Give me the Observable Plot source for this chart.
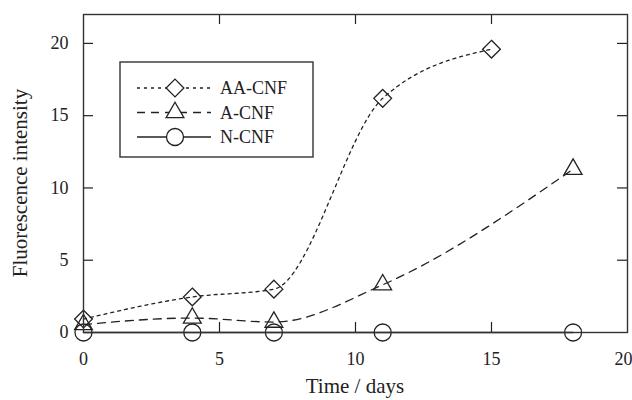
<!DOCTYPE html>
<html>
<head>
<meta charset="utf-8">
<script src="https://cdn.jsdelivr.net/npm/d3@7"></script>
<script src="https://cdn.jsdelivr.net/npm/@observablehq/plot@0.6"></script>
<style>
  html, body { margin: 0; padding: 0; background: #fff; }
  #chart { width: 632px; height: 400px; }
</style>
</head>
<body>
<div id="chart"></div>
<script>
// ---- data ----
const seriesNames = ["AA-CNF", "A-CNF", "N-CNF"];
const aaDays = [0, 4, 7, 11, 15];
const aaValues = [0.93, 2.46, 3.0, 16.2, 19.6];
const aDays = [0, 4, 7, 11, 18];
const aValues = [0.55, 1.0, 0.72, 3.3, 11.3];
const nDays = [0, 4, 7, 11, 18];
const nValues = [0, 0, 0, 0, 0];
const xTicks = [0, 5, 10, 15];
const xLastTick = [20];
const yTicks = [0, 5, 10, 15, 20];
const xInnerTicks = [5, 10, 15];
const yInnerTicks = [5, 10, 15, 20];
const xLabel = "Time / days";
const yLabel = "Fluorescence intensity";

const toRows = (xs, ys, s) => xs.map((x, i) => ({ x, y: ys[i], series: s }));
const aaRows = toRows(aaDays, aaValues, seriesNames[0]);
const aRows = toRows(aDays, aValues, seriesNames[1]);
const nRows = toRows(nDays, nValues, seriesNames[2]);

// ---- styles ----
const W = 632, H = 400, mL = 83, mR = 5, mT = 14, mB = 68;
const plotW = W - mL - mR, plotH = H - mT - mB;
const ink = "#222";
const styles = [
  { symbol: "diamond2", r: 8, dash: "3,4" },
  { symbol: "triangle2", r: 8.5, dash: "8,6" },
  { symbol: "circle", r: 8.5, dash: null }
];

const chart = Plot.plot({
  width: W, height: H,
  marginLeft: mL, marginRight: mR, marginTop: mT, marginBottom: mB,
  style: { fontFamily: "'Liberation Serif', 'Times New Roman', serif", fontSize: "18px", color: ink, background: "#fff" },
  x: { domain: [0, 20] },
  y: { domain: [0, 22] },
  marks: [
    Plot.axisX({ ticks: xTicks, tickSize: 0, tickPadding: 20, label: null, fontSize: 18 }),
    Plot.axisX({ ticks: xLastTick, tickSize: 0, tickPadding: 20, label: null, fontSize: 18, textAnchor: "end", dx: 5 }),
    Plot.axisY({ ticks: yTicks, tickSize: 0, tickPadding: 15, label: null, fontSize: 18 }),
    Plot.tickX(xInnerTicks, { x: d => d, insetTop: plotH - 10, stroke: ink, strokeWidth: 1.2 }),
    Plot.tickX(xInnerTicks, { x: d => d, insetBottom: plotH - 10, stroke: ink, strokeWidth: 1.2 }),
    Plot.tickY(yInnerTicks, { y: d => d, insetRight: plotW - 10, stroke: ink, strokeWidth: 1.2 }),
    Plot.tickY(yInnerTicks, { y: d => d, insetLeft: plotW - 10, stroke: ink, strokeWidth: 1.2 }),
    Plot.line(aaRows, { x: "x", y: "y", curve: "monotone-x", stroke: ink, strokeWidth: 1.3, strokeDasharray: styles[0].dash }),
    Plot.line(aRows, { x: "x", y: "y", curve: "monotone-x", stroke: ink, strokeWidth: 1.3, strokeDasharray: styles[1].dash }),
    Plot.line(nRows, { x: "x", y: "y", stroke: ink, strokeWidth: 1.3 }),
    Plot.dot(aaRows, { x: "x", y: "y", symbol: styles[0].symbol, r: styles[0].r, stroke: ink, strokeWidth: 1.3, fill: "none" }),
    Plot.dot(aRows, { x: "x", y: "y", symbol: styles[1].symbol, r: styles[1].r, stroke: ink, strokeWidth: 1.3, fill: "none" }),
    Plot.dot(nRows, { x: "x", y: "y", symbol: styles[2].symbol, r: styles[2].r, stroke: ink, strokeWidth: 1.3, fill: "none" }),
    Plot.frame({ stroke: "#333", strokeWidth: 1.4 })
  ]
});

document.getElementById("chart").appendChild(chart);

// ---- axis titles & legend (layout only) ----
const svg = d3.select(chart);
svg.append("text")
  .attr("x", mL + plotW / 2).attr("y", 393)
  .attr("text-anchor", "middle")
  .attr("fill", ink)
  .style("font-size", "21px")
  .text(xLabel);
svg.append("text")
  .attr("transform", `translate(20,183) rotate(-90)`)
  .attr("text-anchor", "middle")
  .attr("dominant-baseline", "central")
  .attr("fill", ink)
  .style("font-size", "21px")
  .text(yLabel);

const lg = svg.append("g");
lg.append("rect")
  .attr("x", 120).attr("y", 62).attr("width", 193).attr("height", 95)
  .attr("fill", "#fff").attr("stroke", "#333").attr("stroke-width", 1.4);
const symMap = { diamond2: d3.symbolDiamond2, triangle2: d3.symbolTriangle2, circle: d3.symbolCircle };
seriesNames.forEach((name, i) => {
  const cy = 88 + i * 24.5;
  const st = styles[i];
  lg.append("line")
    .attr("x1", 137).attr("x2", 211).attr("y1", cy).attr("y2", cy)
    .attr("stroke", ink).attr("stroke-width", 1.3)
    .attr("stroke-dasharray", st.dash);
  lg.append("path")
    .attr("transform", `translate(175,${cy})`)
    .attr("d", d3.symbol(symMap[st.symbol], st.r * st.r * Math.PI)())
    .attr("fill", "#fff").attr("stroke", ink).attr("stroke-width", 1.3);
  lg.append("text")
    .attr("x", 220).attr("y", cy)
    .attr("text-anchor", "start")
    .attr("dominant-baseline", "central")
    .attr("fill", ink)
    .style("font-size", "18px")
    .text(name);
});
</script>
</body>
</html>
